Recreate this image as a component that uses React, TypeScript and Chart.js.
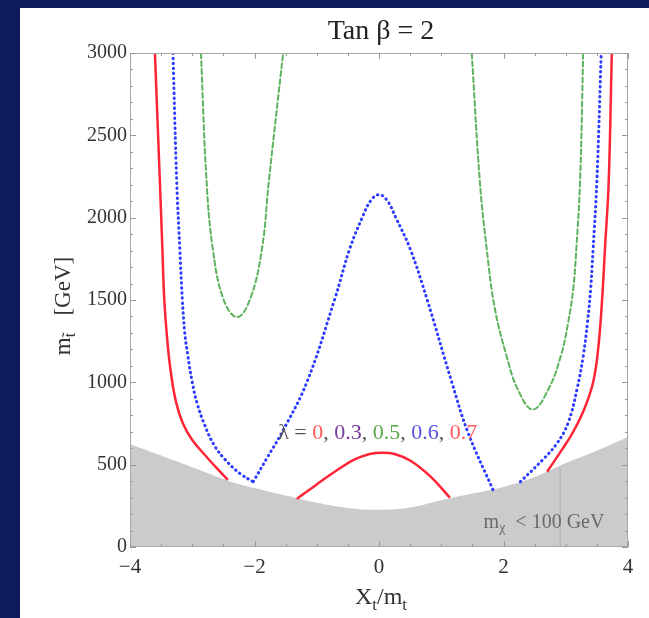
import React, { useEffect, useRef } from "react";
import { Chart, registerables } from "chart.js";
Chart.register(...registerables);

const TITLE = "Tan β = 2";
const X_TICKS = [-4, -2, 0, 2, 4];
const Y_TICKS = [0, 500, 1000, 1500, 2000, 2500, 3000];

// Excluded region (m_chargino < 100 GeV) upper boundary
const grayX = [-4, -3.5, -3, -2.4, -2, -1.5, -1.0, -0.5, 0, 0.5, 1.0, 1.5, 2.0, 2.5, 3.0, 3.5, 4];
const grayY = [626, 555, 484, 400, 358, 312, 268, 237, 226, 240, 284, 325, 365, 425, 510, 585, 668];

// Red solid (λ = 0 / 0.7)
const redLeftX = [-3.6, -3.52, -3.48, -3.45, -3.4, -3.34, -3.26, -3.15, -3.0, -2.8, -2.61, -2.43];
const redLeftY = [3000, 2220, 1811, 1506, 1250, 1050, 880, 750, 650, 560, 480, 408];
const redCapX = [-1.32, -1.0, -0.7, -0.4, -0.15, 0.05, 0.25, 0.5, 0.82, 1.14];
const redCapY = [292, 380, 460, 530, 565, 573, 565, 525, 430, 299];
const redRightX = [2.7, 2.94, 3.12, 3.3, 3.44, 3.52, 3.58, 3.63, 3.69, 3.74];
const redRightY = [457, 591, 700, 840, 1000, 1200, 1480, 1811, 2220, 3000];

// Blue dotted (λ = 0.6)
const blueOuterX = [-3.31, -3.25, -3.2, -3.16, -3.12, -3.07, -3.0, -2.92, -2.8, -2.65, -2.47, -2.23, -2.02];
const blueOuterY = [3000, 2220, 1811, 1506, 1300, 1159, 1000, 870, 740, 620, 530, 445, 396];
const blueInnerX = [-2.02, -1.8, -1.56, -1.16, -0.71, -0.47, -0.27, -0.13, 0, 0.13, 0.27, 0.5, 0.77, 1.17, 1.43, 1.83];
const blueInnerY = [396, 540, 695, 1000, 1506, 1811, 2000, 2105, 2140, 2105, 2000, 1811, 1506, 1000, 695, 348];
const blueRightX = [2.27, 2.63, 2.86, 3.04, 3.18, 3.28, 3.35, 3.4, 3.44, 3.5, 3.57];
const blueRightY = [396, 530, 630, 756, 957, 1159, 1366, 1567, 1811, 2220, 3000];

// Green dashed (λ = 0.5)
const greenLeftX = [-2.86, -2.77, -2.67, -2.5, -2.28, -2.07, -1.88, -1.77, -1.54];
const greenLeftY = [3000, 2220, 1811, 1506, 1396, 1506, 1811, 2220, 3000];
const greenRightX = [1.49, 1.62, 1.73, 1.86, 2.05, 2.23, 2.47, 2.72, 2.92, 3.04, 3.12, 3.17, 3.23, 3.28];
const greenRightY = [3000, 2220, 1811, 1450, 1159, 957, 835, 957, 1159, 1366, 1567, 1811, 2220, 3000];

// faint vertical line inside the excluded region
const vlineX = [2.91, 2.91];
const vlineY = [0, 480];

const LAMBDA_POS = [-1.62, 690];
const MCH_POS = [1.68, 150];

const RED = "#ff2436";
const BLUE = "#2b3bff";
const GREEN = "#5cb35c";
const SERIF = '"Liberation Serif", "DejaVu Serif", serif';

const pts = (xs: number[], ys: number[]) => xs.map((x, i) => ({ x, y: ys[i] }));

type Piece = { t: string; c: string; sub?: boolean };

function drawPieces(ctx: CanvasRenderingContext2D, pieces: Piece[], x: number, y: number, size: number, align: "left" | "center") {
  const widths = pieces.map((p) => {
    ctx.font = `${p.sub ? size * 0.7 : size}px ${SERIF}`;
    return ctx.measureText(p.t).width;
  });
  const total = widths.reduce((a, b) => a + b, 0);
  let cx = align === "center" ? x - total / 2 : x;
  ctx.textBaseline = "middle";
  ctx.textAlign = "left";
  pieces.forEach((p, i) => {
    ctx.font = `${p.sub ? size * 0.7 : size}px ${SERIF}`;
    ctx.fillStyle = p.c;
    ctx.fillText(p.t, cx, p.sub ? y + size * 0.3 : y);
    cx += widths[i];
  });
}

const framePlugin = {
  id: "frame",
  afterDatasetsDraw(chart: any) {
    const { ctx, chartArea: a, scales } = chart;
    const xs = scales.x, ys = scales.y;
    ctx.save();
    ctx.strokeStyle = "#a8a8a8";
    ctx.lineWidth = 1;
    ctx.strokeRect(a.left + 0.5, a.top + 0.5, a.right - a.left - 1, a.bottom - a.top - 1);
    ctx.strokeStyle = "#999";
    ctx.beginPath();
    for (let v = -4; v <= 4.001; v += 0.5) {
      const px = Math.round(xs.getPixelForValue(v)) + 0.5;
      const len = Math.abs(v % 2) < 1e-6 ? 6 : 3;
      ctx.moveTo(px, a.bottom); ctx.lineTo(px, a.bottom - len);
      ctx.moveTo(px, a.top); ctx.lineTo(px, a.top + len);
    }
    for (let v = 0; v <= 3000.1; v += 100) {
      const py = Math.round(ys.getPixelForValue(v)) + 0.5;
      const len = v % 500 === 0 ? 6 : 3;
      ctx.moveTo(a.left, py); ctx.lineTo(a.left + len, py);
      ctx.moveTo(a.right, py); ctx.lineTo(a.right - len, py);
    }
    ctx.stroke();

    // in-plot annotations
    drawPieces(ctx, [
      { t: "λ = ", c: "#555" },
      { t: "0", c: "#ff5a5a" },
      { t: ", ", c: "#555" },
      { t: "0.3", c: "#7a3a9a" },
      { t: ", ", c: "#555" },
      { t: "0.5", c: "#5aa848" },
      { t: ", ", c: "#555" },
      { t: "0.6", c: "#5b52e0" },
      { t: ", ", c: "#555" },
      { t: "0.7", c: "#ff5a5a" },
    ], xs.getPixelForValue(LAMBDA_POS[0]), ys.getPixelForValue(LAMBDA_POS[1]), 22, "left");
    drawPieces(ctx, [
      { t: "m", c: "#6a6a6a" },
      { t: "χ", c: "#6a6a6a", sub: true },
      { t: "  < 100 GeV", c: "#6a6a6a" },
    ], xs.getPixelForValue(MCH_POS[0]), ys.getPixelForValue(MCH_POS[1]), 20, "left");

    // titles
    const cxm = (a.left + a.right) / 2;
    drawPieces(ctx, [{ t: TITLE, c: "#222" }], cxm + 2, 24, 28, "center");
    drawPieces(ctx, [
      { t: "X", c: "#333" }, { t: "t", c: "#333", sub: true },
      { t: "/m", c: "#333" }, { t: "t", c: "#333", sub: true },
    ], cxm + 2, 590, 24, "center");
    ctx.translate(44, (a.top + a.bottom) / 2 + 6);
    ctx.rotate(-Math.PI / 2);
    drawPieces(ctx, [
      { t: "m", c: "#333" }, { t: "t̃", c: "#333", sub: true },
      { t: "   [GeV]", c: "#333" },
    ], 0, 0, 23, "center");
    ctx.restore();
  },
};

export default function App() {
  const ref = useRef<HTMLCanvasElement>(null);
  useEffect(() => {
    const line = (xs: number[], ys: number[], color: string, width: number, dash: number[]) => ({
      data: pts(xs, ys),
      borderColor: color,
      borderWidth: width,
      borderDash: dash,
      borderCapStyle: dash.length ? "round" : "butt",
      pointRadius: 0,
      tension: 0.4,
      fill: false,
      order: 1,
    });
    const chart = new Chart(ref.current!, {
      type: "line",
      data: {
        datasets: [
          {
            data: pts(grayX, grayY),
            borderWidth: 0,
            borderColor: "rgba(0,0,0,0)",
            backgroundColor: "#cbcbcb",
            fill: "start",
            pointRadius: 0,
            tension: 0.4,
            order: 10,
          },
          { data: pts(vlineX, vlineY), borderColor: "rgba(150,150,150,0.6)", borderWidth: 1, pointRadius: 0, order: 9 },
          line(greenLeftX, greenLeftY, GREEN, 2, [5, 3]),
          line(greenRightX, greenRightY, GREEN, 2, [5, 3]),
          line(blueOuterX, blueOuterY, BLUE, 3, [0.5, 4.5]),
          line(blueInnerX, blueInnerY, BLUE, 3, [0.5, 4.5]),
          line(blueRightX, blueRightY, BLUE, 3, [0.5, 4.5]),
          line(redLeftX, redLeftY, RED, 2.5, []),
          line(redCapX, redCapY, RED, 2.5, []),
          line(redRightX, redRightY, RED, 2.5, []),
        ] as any,
      },
      options: {
        animation: false,
        responsive: false,
        devicePixelRatio: 1,
        layout: { padding: { left: 30, top: 45, right: 21, bottom: 0 } },
        scales: {
          x: {
            type: "linear",
            min: -4,
            max: 4,
            afterBuildTicks: (s: any) => { s.ticks = X_TICKS.map((v) => ({ value: v })); },
            afterFit: (s: any) => { s.height = 71; },
            ticks: {
              font: { family: SERIF, size: 21 },
              color: "#333",
              padding: 8,
              maxRotation: 0,
              callback: (v: any) => (v < 0 ? "−" + Math.abs(v) : String(v)),
            },
            grid: { display: false, drawTicks: false },
            border: { display: false },
          },
          y: {
            type: "linear",
            min: 0,
            max: 3000,
            afterBuildTicks: (s: any) => { s.ticks = Y_TICKS.map((v) => ({ value: v })); },
            afterFit: (s: any) => { s.width = 80; },
            ticks: {
              font: { family: SERIF, size: 20 },
              color: "#333",
              padding: 3,
              callback: (v: any) => String(v),
            },
            grid: { display: false, drawTicks: false },
            border: { display: false },
          },
        },
        plugins: { legend: { display: false }, tooltip: { enabled: false }, title: { display: false } },
      } as any,
      plugins: [framePlugin],
    });
    return () => chart.destroy();
  }, []);

  return (
    <div style={{ position: "absolute", left: 0, top: 0, width: 649, height: 618, background: "#0d1a5e", overflow: "hidden" }}>
      <div style={{ position: "absolute", left: 20, top: 8, width: 629, height: 610, background: "#fff" }}>
        <canvas ref={ref} width={629} height={610} style={{ display: "block" }} />
      </div>
    </div>
  );
}
